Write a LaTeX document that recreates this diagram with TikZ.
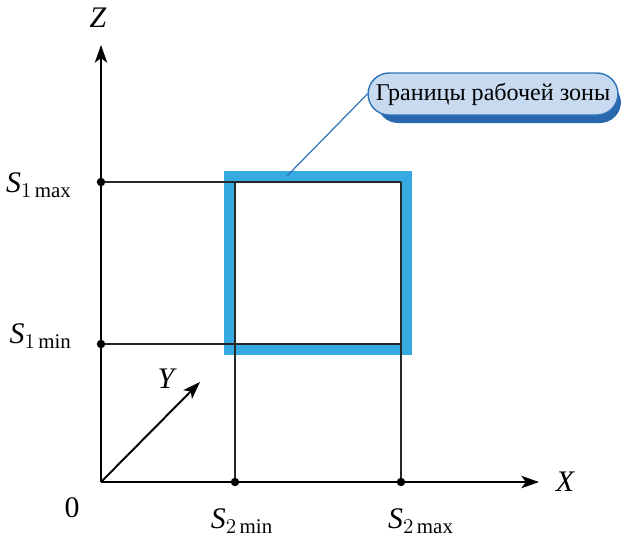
\documentclass[tikz,border=0pt]{standalone}
\usepackage{fontspec}
\setmainfont{Liberation Serif}
\usetikzlibrary{arrows.meta}
\definecolor{zone}{HTML}{35A9E0}
\definecolor{callfill}{HTML}{C7DAF0}
\definecolor{calledge}{HTML}{2F74B8}
\definecolor{callshade}{HTML}{2A68AE}

\tikzset{
  axis/.style={line width=1.2pt,-{Stealth[length=10pt,width=7pt,inset=2.5pt]}},
  grid/.style={line width=0.7pt,black!85},
  lbl/.style={font=\fontsize{17}{20}\selectfont},
  dot/.style={circle,fill=black,inner sep=0pt,minimum size=4.8pt}
}

\begin{document}
\begin{tikzpicture}[x=0.02cm,y=-0.02cm]
  \useasboundingbox (0,0) rectangle (621,539);
  % points
  \coordinate (O) at (101,482);
  \coordinate (ztip) at (101,45);
  \coordinate (xtip) at (539,482);
  \coordinate (ytip) at (200,382);
  \coordinate (tr) at (401,182);
  \coordinate (br) at (401,344);
  \coordinate (tl) at (235,182);
  % work zone
  \draw[zone,line width=6.25pt] (229.5,176.5) rectangle (406.5,349.5);
  % thin lines
  \draw[grid] (101,182) -- (tr);
  \draw[grid] (101,344) -- (br);
  \draw[grid] (235,482) -- (tl);
  \draw[grid] (401,482) -- (tr);
  % axes
  \draw[axis] (O) -- (ztip);
  \draw[axis] (O) -- (xtip);
  \draw[axis,line width=1.1pt] (O) -- (ytip);
  \node[lbl] (zl) at (98,18) {$\mathit{Z}$};
  \node[lbl] (xl) at (565,482) {$\mathit{X}$};
  \node[lbl] (yl) at (166,379) {$\mathit{Y}$};
  \node[lbl] (ol) at (72,508) {0};
  % marks
  \node[dot] (s1max) at (101,182) {};
  \node[dot] (s1min) at (101,344) {};
  \node[dot] (s2min) at (235,482) {};
  \node[dot] (s2max) at (401,482) {};
  \node[lbl,anchor=east] (l1max) at (78,185) {$\mathit{S}_{1\,\mathrm{max}}$};
  \node[lbl,anchor=east] (l1min) at (78,336) {$\mathit{S}_{1\,\mathrm{min}}$};
  \node[lbl] (l2min) at (242,521) {$\mathit{S}_{2\,\mathrm{min}}$};
  \node[lbl] (l2max) at (421,521) {$\mathit{S}_{2\,\mathrm{max}}$};
  % callout
  \fill[callshade,rounded corners=12pt] (377,82) rectangle (621,123);
  \node[draw=calledge,fill=callfill,rounded corners=12pt,line width=0.8pt,
        minimum width=5cm,inner sep=0pt,
        minimum height=0.84cm,font=\fontsize{13.7}{16}\selectfont]
       (callout) at (493,94) {Границы рабочей зоны};
  \coordinate (lead) at (287,176);
  \draw[calledge,line width=0.7pt] (lead) -- (callout.west);
\end{tikzpicture}
\end{document}
